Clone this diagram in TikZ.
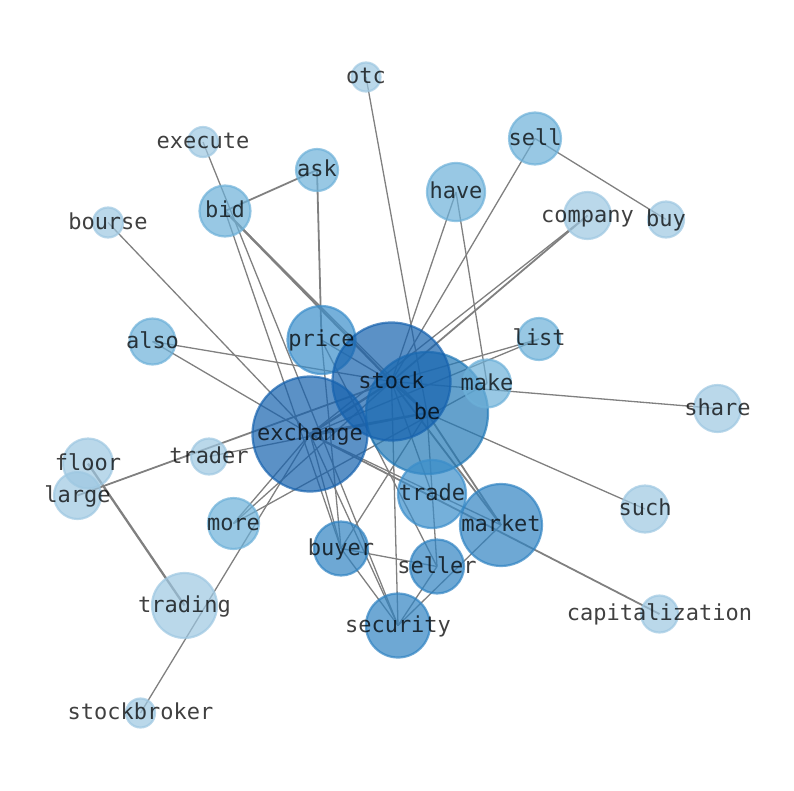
\documentclass[tikz,border=0pt]{standalone}
\usepackage{fontspec}
\newfontfamily\monof{DejaVu Sans Mono}
\definecolor{cA}{RGB}{157,199,225}
\definecolor{cB}{RGB}{108,176,216}
\definecolor{cC}{RGB}{59,142,202}
\definecolor{cD}{RGB}{48,131,194}
\definecolor{cE}{RGB}{34,121,183}
\definecolor{cF}{RGB}{22,98,174}
\definecolor{edgegray}{RGB}{128,128,128}
\begin{document}
\begin{tikzpicture}[x=1pt,y=-1pt,
  edge/.style={draw=edgegray, line width=1.3pt},
  edgem/.style={draw=edgegray, line width=1.8pt},
  edgeb/.style={draw=edgegray, line width=2.3pt},
  bub/.style={circle, inner sep=0pt, outer sep=0pt, fill opacity=0.7, draw opacity=0.7, line width=2.2pt},
  lvA/.style={bub, fill=cA, draw=cA},
  lvB/.style={bub, fill=cB, draw=cB},
  lvC/.style={bub, fill=cC, draw=cC},
  lvD/.style={bub, fill=cD, draw=cD},
  lvE/.style={bub, fill=cE, draw=cE},
  lvF/.style={bub, fill=cF, draw=cF},
  lbl/.style={inner sep=0pt, yshift=-4pt, text=black, text opacity=0.75, font=\monof\fontsize{22}{26}\selectfont, text height=0.76em, text depth=0.24em}
]
\useasboundingbox (0,0) rectangle (794,790);
% positions
\coordinate (otc) at (366,77);
\coordinate (execute) at (203,142);
\coordinate (ask) at (317,170);
\coordinate (sell) at (535,138.5);
\coordinate (have) at (456,192);
\coordinate (bid) at (225,211);
\coordinate (bourse) at (108,222.5);
\coordinate (company) at (587.5,215.5);
\coordinate (buy) at (666,219.5);
\coordinate (also) at (152.5,341.5);
\coordinate (price) at (321.5,340);
\coordinate (list) at (539,339);
\coordinate (stock) at (391.5,381.5);
\coordinate (make) at (487,383.5);
\coordinate (be) at (427,413);
\coordinate (share) at (717.5,408.5);
\coordinate (exchange) at (310,434);
\coordinate (trader) at (209,456.5);
\coordinate (floor) at (88,463.5);
\coordinate (large) at (77.5,495.5);
\coordinate (trade) at (432,494);
\coordinate (more) at (233.5,523.5);
\coordinate (market) at (501,525);
\coordinate (such) at (645,509);
\coordinate (buyer) at (341,548.5);
\coordinate (seller) at (437,566.5);
\coordinate (trading) at (184.5,605.5);
\coordinate (security) at (398,625.5);
\coordinate (capitalization) at (659.5,614);
\coordinate (stockbroker) at (140.5,713);
% edges
\draw[edge] (otc) -- (be);
\draw[edge] (execute) -- (security);
\draw[edgem] (ask) -- (bid);
\draw[edgem] (ask) -- (price);
\draw[edgeb] (bid) -- (stock);
\draw[edge] (bid) -- (be);
\draw[edge] (bid) -- (buyer);
\draw[edge] (bourse) -- (exchange);
\draw[edge] (also) -- (stock);
\draw[edge] (also) -- (exchange);
\draw[edge] (sell) -- (buy);
\draw[edge] (sell) -- (stock);
\draw[edge] (have) -- (stock);
\draw[edge] (have) -- (make);
\draw[edgem] (company) -- (stock);
\draw[edge] (company) -- (exchange);
\draw[edge] (list) -- (stock);
\draw[edge] (list) -- (exchange);
\draw[edge] (share) -- (stock);
\draw[edge] (make) -- (more);
\draw[edge] (such) -- (be);
\draw[edgem] (capitalization) -- (exchange);
\draw[edge] (exchange) -- (market);
\draw[edgem] (large) -- (stock);
\draw[edge] (trader) -- (be);
\draw[edgeb] (floor) -- (trading);
\draw[edge] (more) -- (stock);
\draw[edge] (more) -- (exchange);
\draw[edge] (stockbroker) -- (exchange);
\draw[edge] (buyer) -- (seller);
\draw[edge] (buyer) -- (security);
\draw[edge] (buyer) -- (be);
\draw[edge] (exchange) -- (buyer);
\draw[edge] (price) -- (buyer);
\draw[edge] (price) -- (seller);
\draw[edge] (exchange) -- (security);
\draw[edge] (stock) -- (security);
\draw[edge] (seller) -- (security);
\draw[edge] (security) -- (market);
\draw[edge] (be) -- (seller);
\draw[edgem] (stock) -- (market);
\draw[edgem] (be) -- (market);
\draw[edgeb] (stock) -- (be);
\draw[edgeb] (stock) -- (exchange);
\draw[edgeb] (be) -- (exchange);
\draw[edge] (stock) -- (trade);
\draw[edge] (stock) -- (price);
% bubbles
\node[lvA, minimum size=29] (otc-b) at (otc) {};
\node[lvA, minimum size=30] (execute-b) at (execute) {};
\node[lvB, minimum size=42] (ask-b) at (ask) {};
\node[lvB, minimum size=52] (sell-b) at (sell) {};
\node[lvB, minimum size=58] (have-b) at (have) {};
\node[lvB, minimum size=51] (bid-b) at (bid) {};
\node[lvA, minimum size=30] (bourse-b) at (bourse) {};
\node[lvA, minimum size=47] (company-b) at (company) {};
\node[lvA, minimum size=36] (buy-b) at (buy) {};
\node[lvB, minimum size=46] (also-b) at (also) {};
\node[lvC, minimum size=68] (price-b) at (price) {};
\node[lvB, minimum size=42] (list-b) at (list) {};
\node[lvE, minimum size=122] (be-b) at (be) {};
\node[lvF, minimum size=118] (stock-b) at (stock) {};
\node[lvB, minimum size=48] (make-b) at (make) {};
\node[lvA, minimum size=47] (share-b) at (share) {};
\node[lvF, minimum size=115] (exchange-b) at (exchange) {};
\node[lvA, minimum size=36] (trader-b) at (trader) {};
\node[lvA, minimum size=50] (floor-b) at (floor) {};
\node[lvA, minimum size=47] (large-b) at (large) {};
\node[lvC, minimum size=68] (trade-b) at (trade) {};
\node[lvB, minimum size=51] (more-b) at (more) {};
\node[lvD, minimum size=82] (market-b) at (market) {};
\node[lvA, minimum size=47] (such-b) at (such) {};
\node[lvD, minimum size=54] (buyer-b) at (buyer) {};
\node[lvD, minimum size=54] (seller-b) at (seller) {};
\node[lvA, minimum size=65] (trading-b) at (trading) {};
\node[lvD, minimum size=64] (security-b) at (security) {};
\node[lvA, minimum size=37] (capitalization-b) at (capitalization) {};
\node[lvA, minimum size=29] (stockbroker-b) at (stockbroker) {};
% labels
\node[lbl] (otc-l) at (otc) {otc};
\node[lbl] (execute-l) at (execute) {execute};
\node[lbl] (ask-l) at (ask) {ask};
\node[lbl] (sell-l) at (sell) {sell};
\node[lbl] (have-l) at (have) {have};
\node[lbl] (bid-l) at (bid) {bid};
\node[lbl] (bourse-l) at (bourse) {bourse};
\node[lbl] (company-l) at (company) {company};
\node[lbl] (buy-l) at (buy) {buy};
\node[lbl] (also-l) at (also) {also};
\node[lbl] (price-l) at (price) {price};
\node[lbl] (list-l) at (list) {list};
\node[lbl] (stock-l) at (stock) {stock};
\node[lbl] (make-l) at (make) {make};
\node[lbl] (be-l) at (be) {be};
\node[lbl] (share-l) at (share) {share};
\node[lbl] (exchange-l) at (exchange) {exchange};
\node[lbl] (trader-l) at (trader) {trader};
\node[lbl] (floor-l) at (floor) {floor};
\node[lbl] (large-l) at (large) {large};
\node[lbl] (trade-l) at (trade) {trade};
\node[lbl] (more-l) at (more) {more};
\node[lbl] (market-l) at (market) {market};
\node[lbl] (such-l) at (such) {such};
\node[lbl] (buyer-l) at (buyer) {buyer};
\node[lbl] (seller-l) at (seller) {seller};
\node[lbl] (trading-l) at (trading) {trading};
\node[lbl] (security-l) at (security) {security};
\node[lbl] (capitalization-l) at (capitalization) {capitalization};
\node[lbl] (stockbroker-l) at (stockbroker) {stockbroker};
\end{tikzpicture}
\end{document}
